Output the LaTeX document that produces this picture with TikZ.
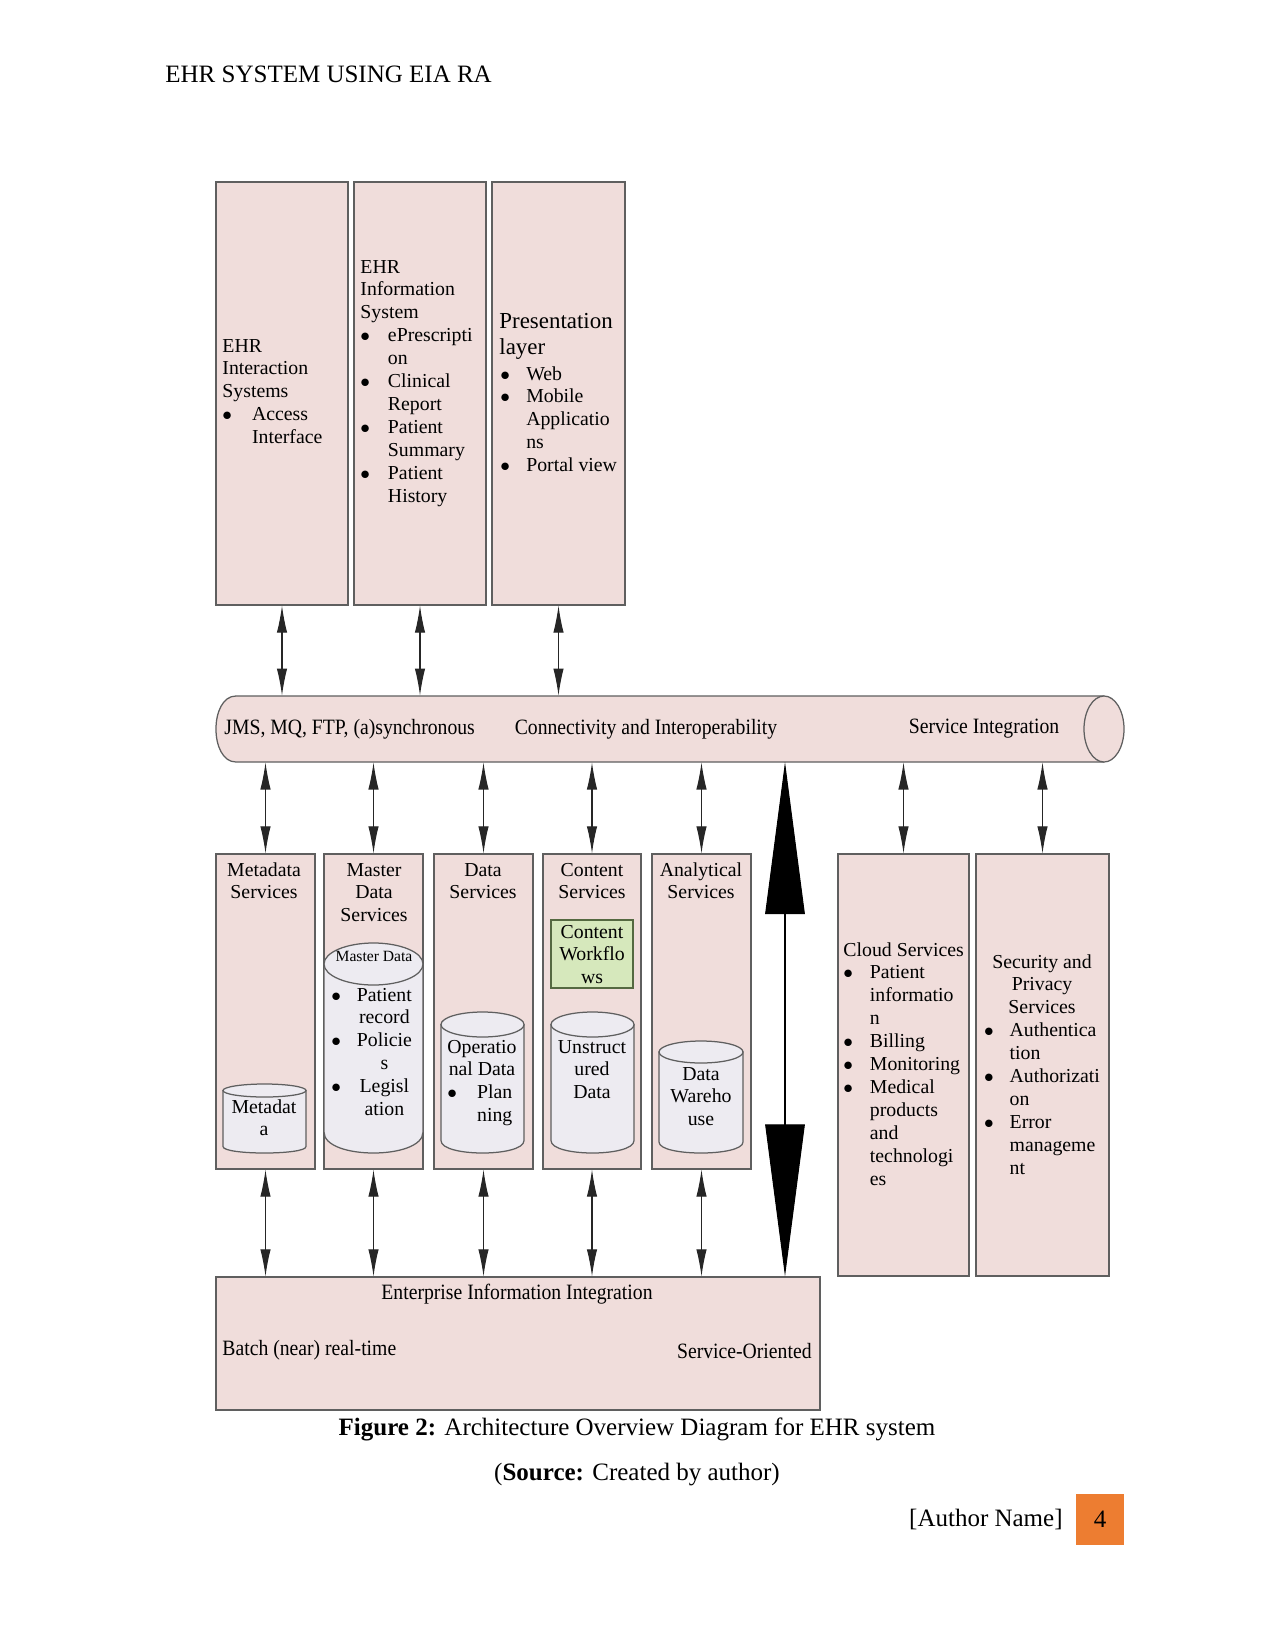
\documentclass[tikz,border=0pt]{standalone}
\usepackage{fontspec}
\setmainfont{Liberation Serif}
\newfontfamily\narrowfont[FakeStretch=0.9]{Liberation Serif}
\definecolor{layerPink}{RGB}{240, 221, 219}
\definecolor{storeGrey}{RGB}{237, 235, 241}
\definecolor{flowGreen}{RGB}{214, 232, 188}
\definecolor{flowEdge}{RGB}{85, 105, 65}
\definecolor{edgeGrey}{RGB}{95, 95, 95}
\definecolor{pageOrange}{RGB}{237, 125, 49}
\usepackage{tikz}
\usetikzlibrary{positioning, calc, shapes.geometric, arrows.meta, fit}
\newcommand{\txtlines}[1]{\begin{tabular}[t]{@{}c@{}}#1\end{tabular}}
\newcommand{\hd}[1]{\multicolumn{2}{@{}l@{}}{#1}}
\newcommand{\hdc}[1]{\multicolumn{2}{@{}c@{}}{#1}}
\newcommand{\bl}{$\bullet$}

\begin{document}
\begin{tikzpicture}[
    x=0.48pt, y=-0.48pt,
    layer/.style={rectangle, draw=edgeGrey, fill=layerPink, line width=0.6pt, inner sep=0pt},
    storeEdge/.style={draw=edgeGrey, fill=storeGrey, line width=0.6pt},
    flowbox/.style={rectangle, draw=flowEdge, fill=flowGreen, line width=0.6pt, inner sep=0pt},
    txt/.style={inner sep=0pt, font=\fontsize{9.5}{11}\selectfont},
    busTxt/.style={inner sep=0pt, font=\narrowfont\fontsize{10.5}{12}\selectfont},
    pageTxt/.style={inner sep=0pt, font=\fontsize{12}{14}\selectfont},
    link/.style={arrows={Latex[length=13pt,width=5pt]-Latex[length=13pt,width=5pt]},
                 line width=0.5pt, draw=black!85},
    bigLink/.style={arrows={Triangle[length=73pt,width=19pt]-Triangle[length=73pt,width=19pt]},
                    line width=0.5pt},
  ]
    \useasboundingbox[fill=white] (0,0) rectangle (1275,1651);

    % Page header
    \node[pageTxt, anchor=base west] (runHead) at (165,83) {EHR SYSTEM USING EIA RA};

    % Upper layer
    \node[layer, fit={(216,182) (348,605)}] (interact) {};
    \node[layer, fit={(354,182) (486,605)}] (infoSys) {};
    \node[layer, fit={(492,182) (625,605)}] (present) {};

    \node[txt, anchor=base west] (interactTxt) at (222,352)
      {\begin{tabular}[t]{@{}l@{\hspace{9.6pt}}l@{}}
        \hd{EHR}\\ \hd{Interaction}\\ \hd{Systems}\\
        \bl & Access\\ & Interface
      \end{tabular}};
    \node[txt, anchor=base west] (infoSysTxt) at (360,273)
      {\begin{tabular}[t]{@{}l@{\hspace{8.6pt}}l@{}}
        \hd{EHR}\\ \hd{Information}\\ \hd{System}\\
        \bl & ePrescripti\\ & on\\
        \bl & Clinical\\ & Report\\
        \bl & Patient\\ & Summary\\
        \bl & Patient\\ & History
      \end{tabular}};
    \node[txt, font=\fontsize{11}{12.5}\selectfont, anchor=base west] (presentHead) at (499,328)
      {\begin{tabular}[t]{@{}l@{}}Presentation\\ layer\end{tabular}};
    \node[txt, anchor=base west] (presentTxt) at (500,380)
      {\begin{tabular}[t]{@{}l@{\hspace{7.8pt}}l@{}}
        \bl & Web\\
        \bl & Mobile\\ & Applicatio\\ & ns\\
        \bl & Portal view
      \end{tabular}};

    % Connectivity bus
    \node[fit={(216,696) (1124,762)}, inner sep=0pt] (bus) {};
    \fill[layerPink] (236,696) -- (1104,696) -- (1104,762) -- (236,762)
      .. controls (209.3,762) and (209.3,696) .. (236,696);
    \draw[edgeGrey, line width=0.6pt] (1104,696) -- (236,696)
      .. controls (209.3,696) and (209.3,762) .. (236,762) -- (1104,762);
    \filldraw[fill=layerPink, draw=edgeGrey, line width=0.6pt]
      (1104,729) ellipse [x radius=9.6pt, y radius=15.84pt];
    \node[busTxt, anchor=west] (busProto) at (224,729) {JMS, MQ, FTP, (a)synchronous};
    \node[busTxt] (busConn) at (646,729) {Connectivity and Interoperability};
    \node[busTxt] (busSvc) at (984,729) {Service Integration};

    \foreach \n in {interact, infoSys, present} {
      \draw[link] (\n.south) -- (\n.south |- bus.north);
    }

    % Service layer
    \node[layer, fit={(216,854) (315,1169)}] (meta) {};
    \node[layer, fit={(324,854) (423,1169)}] (master) {};
    \node[layer, fit={(434,854) (533,1169)}] (dataSvc) {};
    \node[layer, fit={(543,854) (641,1169)}] (content) {};
    \node[layer, fit={(652,854) (751,1169)}] (analytic) {};
    \node[layer, fit={(838,854) (969,1276)}] (cloud) {};
    \node[layer, fit={(976,854) (1109,1276)}] (security) {};

    \node[txt, anchor=base] (metaHead) at (264,876) {\txtlines{Metadata\\ Services}};
    \node[txt, anchor=base] (masterHead) at (374,876) {\txtlines{Master\\ Data\\ Services}};
    \node[txt, anchor=base] (dataHead) at (483,876) {\txtlines{Data\\ Services}};
    \node[txt, anchor=base] (contentHead) at (592,876) {\txtlines{Content\\ Services}};
    \node[txt, anchor=base] (analyticHead) at (701,876) {\txtlines{Analytical\\ Services}};

    % Stores: name / left / top / right / bottom / cap radius
    \foreach \nm/\l/\t/\r/\b/\ry in {metaStore/223/1084/306/1153/6.5,
                                     masterStore/324/943/423/1153/21,
                                     opStore/441/1012/524/1153/12.5,
                                     unstrStore/551/1012/634/1153/12.5,
                                     whStore/659/1041/743/1153/11} {
      \node[fit={(\l,\t) (\r,\b)}, inner sep=0pt] (\nm) {};
      \filldraw[storeEdge] ({\l},{\t+\ry}) -- ({\l},{\b-\ry})
        .. controls ({\l},{\b+\ry/3}) and ({\r},{\b+\ry/3}) .. ({\r},{\b-\ry})
        -- ({\r},{\t+\ry}) -- cycle;
      \filldraw[storeEdge] ({(\l+\r)/2},{\t+\ry})
        ellipse [x radius={(\r-\l)/2*0.48pt}, y radius={\ry*0.48pt}];
    }
    \node[flowbox, fit={(551,920) (633,988)}] (workflow) {};

    \node[txt, anchor=base] (workflowTxt) at (592,938) {\txtlines{Content\\ Workflo\\ ws}};
    \node[txt, font=\fontsize{7.5}{9}\selectfont, anchor=base] (masterStoreHead) at (374,961) {Master Data};
    \node[txt, anchor=base west] (masterStoreTxt) at (331,1001)
      {\begin{tabular}[t]{@{}l@{\hspace{7.6pt}}c@{}}
        \bl & Patient\\ & record\\
        \bl & Policie\\ & s\\
        \bl & Legisl\\ & ation
      \end{tabular}};
    \node[txt, anchor=base] (metaStoreTxt) at (264,1113) {\txtlines{Metadat\\ a}};
    \node[txt, anchor=base] (opStoreTxt) at (482,1053)
      {\begin{tabular}[t]{@{}l@{\hspace{7.6pt}}c@{}}
        \hdc{Operatio}\\ \hdc{nal Data}\\
        \bl & Plan\\ & ning
      \end{tabular}};
    \node[txt, anchor=base] (unstrStoreTxt) at (592,1053) {\txtlines{Unstruct\\ ured\\ Data}};
    \node[txt, anchor=base] (whStoreTxt) at (701,1080) {\txtlines{Data\\ Wareho\\ use}};

    \node[txt, anchor=base west] (cloudTxt) at (843,956)
      {\begin{tabular}[t]{@{}l@{\hspace{8.1pt}}l@{}}
        \hd{Cloud Services}\\
        \bl & Patient\\ & informatio\\ & n\\
        \bl & Billing\\
        \bl & Monitoring\\
        \bl & Medical\\ & products\\ & and\\ & technologi\\ & es
      \end{tabular}};
    \node[txt, anchor=base] (securityTxt) at (1042,968)
      {\begin{tabular}[t]{@{}l@{\hspace{7.6pt}}l@{}}
        \hdc{Security and}\\ \hdc{Privacy}\\ \hdc{Services}\\
        \bl & Authentica\\ & tion\\
        \bl & Authorizati\\ & on\\
        \bl & Error\\ & manageme\\ & nt
      \end{tabular}};

    \foreach \n in {meta, master, dataSvc, content, analytic, cloud, security} {
      \draw[link] (\n.north) -- (\n.north |- bus.south);
    }

    % Enterprise Information Integration
    \node[layer, fit={(216,1277) (820,1410)}] (eii) {};
    \node[busTxt, anchor=base] (eiiHead) at (517,1299) {Enterprise Information Integration};
    \node[busTxt, anchor=base west] (eiiBatch) at (222,1355) {Batch (near) real-time};
    \node[busTxt, anchor=base east] (eiiSoa) at (812,1358) {Service-Oriented};

    \foreach \n in {meta, master, dataSvc, content, analytic} {
      \draw[link] (\n.south) -- (\n.south |- eii.north);
    }
    \coordinate (bigTop) at (785,762);
    \draw[bigLink] (bigTop) -- (bigTop |- eii.north);

    % Caption and footer
    \node[pageTxt, anchor=base] (figCap) at (637,1435)
      {\textbf{Figure 2:} Architecture Overview Diagram for EHR system};
    \node[pageTxt, anchor=base] (figSrc) at (637,1480) {(\textbf{Source:} Created by author)};
    \node[pageTxt, anchor=base east] (authorName) at (1063,1526) {[Author Name]};
    \node[fill=pageOrange, inner sep=0pt, fit={(1076,1494) (1124,1545)}] (pageBox) {};
    \node[pageTxt] (pageNum) at (pageBox.center) {4};
\end{tikzpicture}
\end{document}
